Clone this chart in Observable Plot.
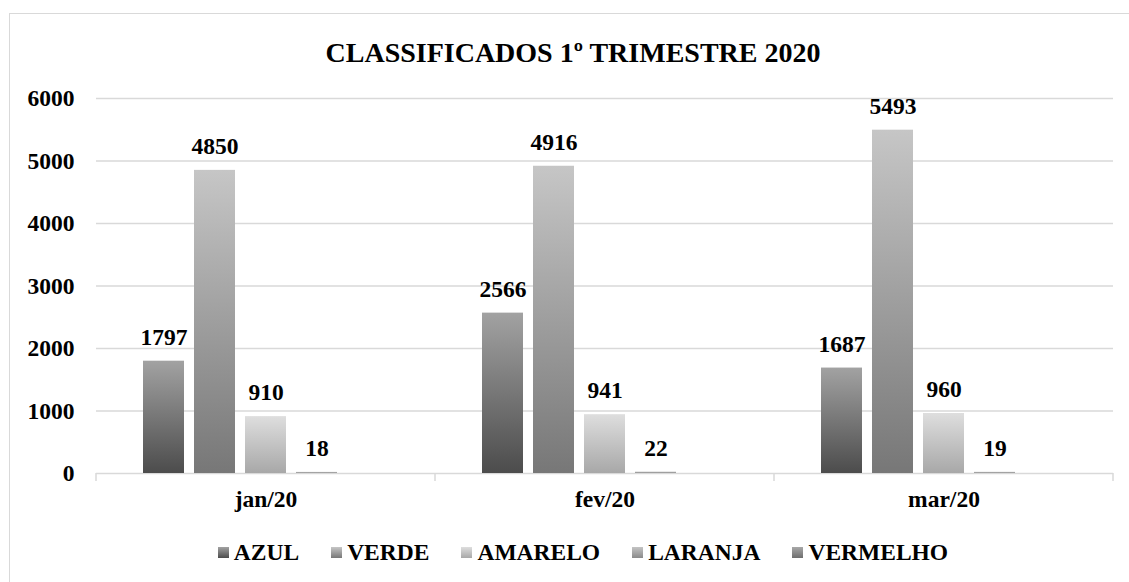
<!DOCTYPE html>
<html>
<head>
<meta charset="utf-8">
<script src="https://cdn.jsdelivr.net/npm/d3@7"></script>
<script src="https://cdn.jsdelivr.net/npm/@observablehq/plot@0.6"></script>
<style>
  html, body { margin: 0; padding: 0; background: #fff; }
  #wrap { position: relative; width: 1129px; height: 582px; overflow: hidden; font-family: "Liberation Serif", "Times New Roman", serif; font-weight: bold; color: #000; }
  #frame { position: absolute; left: 9px; top: 13px; width: 1128px; height: 600px; border: 1.5px solid #d9d9d9; box-sizing: border-box; }
  #title { position: absolute; left: 9px; width: 1128px; top: 35px; text-align: center; font-size: 28px; line-height: 36px; }
  #chart { position: absolute; left: 0; top: 0; }
  #legend { position: absolute; left: 9px; width: 1148px; top: 537px; display: flex; justify-content: center; font-size: 23.5px; line-height: 30px; }
  .item { display: flex; align-items: center; margin: 0 16px; }
  .sw { width: 11px; height: 11px; margin-right: 5px; }
</style>
</head>
<body>
<div id="wrap">
  <div id="frame"></div>
  <div id="title">CLASSIFICADOS 1º TRIMESTRE 2020</div>
  <div id="chart"></div>
  <div id="legend"></div>
</div>
<script>
const months = ["jan/20", "fev/20", "mar/20"];
const series = ["AZUL", "VERDE", "AMARELO", "LARANJA", "VERMELHO"];
const azul = [1797, 2566, 1687];
const verde = [4850, 4916, 5493];
const amarelo = [910, 941, 960];
const laranja = [18, 22, 19];
const vermelho = [null, null, null];
const yTicks = [0, 1000, 2000, 3000, 4000, 5000, 6000];
const gradTop = ["#a2a2a2", "#c6c6c6", "#dedede", "#c4c4c4", "#a8a8a8"];
const gradBottom = ["#4c4c4c", "#777777", "#a8a8a8", "#8a8a8a", "#6e6e6e"];

const values = [azul, verde, amarelo, laranja, vermelho];
const data = [];
months.forEach((m, i) => series.forEach((s, j) => {
  data.push({month: m, series: s, value: values[j][i]});
}));
const shown = data.filter(d => d.value != null);

const chart = Plot.plot({
  width: 1129,
  height: 520,
  marginTop: 98,
  marginBottom: 47,
  marginLeft: 96,
  marginRight: 16,
  style: {fontFamily: '"Liberation Serif", "Times New Roman", serif', fontWeight: "bold", fontSize: "23.5px", color: "#000", background: "transparent"},
  fx: {domain: months, padding: 0, label: null, axis: null},
  x: {domain: series, paddingInner: 10 / 52, paddingOuter: 0.856, axis: null},
  y: {domain: [0, 6000], label: null},
  color: {type: "ordinal", domain: series, range: series.map((s, i) => `url(#grad${i})`)},
  marks: [
    Plot.gridY(yTicks, {stroke: "#d9d9d9", strokeOpacity: 1, strokeWidth: 1.3}),
    Plot.axisY(yTicks, {tickSize: 0, tickPadding: 22, tickFormat: d => String(d), fontSize: 23.5, fontWeight: "bold", label: null}),
    Plot.axisFx({anchor: "bottom", tickSize: 0, tickPadding: 17, fontSize: 23.5, fontWeight: "bold", label: null}),
    Plot.barY(shown, {fx: "month", x: "series", y: "value", fill: "series"}),
    Plot.text(shown, {fx: "month", x: "series", y: "value", text: d => String(d.value), dy: -24, fontSize: 23.5, fontWeight: "bold", fill: "#000", lineAnchor: "middle"})
  ]
});

// gradient definitions
const svg = d3.select(chart);
const defs = svg.insert("defs", ":first-child");
series.forEach((s, i) => {
  const g = defs.append("linearGradient").attr("id", `grad${i}`).attr("x1", 0).attr("y1", 0).attr("x2", 0).attr("y2", 1);
  g.append("stop").attr("offset", "0%").attr("stop-color", gradTop[i]);
  g.append("stop").attr("offset", "100%").attr("stop-color", gradBottom[i]);
});

// category boundary ticks below the baseline, from the fx scale
const fx = chart.scale("fx");
const y = chart.scale("y");
const y0 = y.apply(0);
const bounds = months.map(m => fx.apply(m)).concat([fx.apply(months[months.length - 1]) + fx.bandwidth]);
svg.append("g").selectAll("line").data(bounds).join("line")
  .attr("x1", d => d).attr("x2", d => d)
  .attr("y1", y0).attr("y2", y0 + 8)
  .attr("stroke", "#d9d9d9").attr("stroke-width", 1.5);

document.getElementById("chart").appendChild(chart);

// legend
const legend = d3.select("#legend");
series.forEach((s, i) => {
  const it = legend.append("div").attr("class", "item");
  it.append("div").attr("class", "sw").style("background", `linear-gradient(to bottom, ${gradTop[i]}, ${gradBottom[i]})`);
  it.append("span").text(s);
});
</script>
</body>
</html>
